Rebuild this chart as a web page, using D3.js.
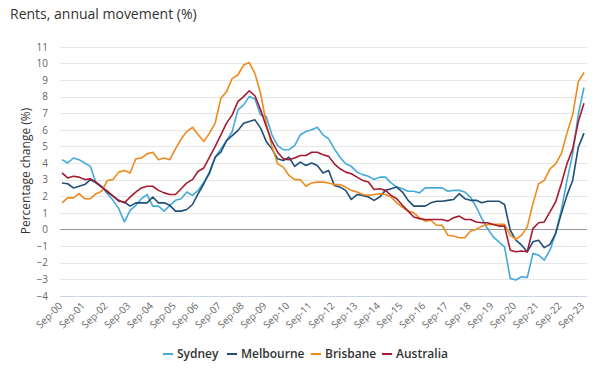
<!DOCTYPE html>
<html><head><meta charset="utf-8">
<script src="https://cdn.jsdelivr.net/npm/d3@7/dist/d3.min.js"></script>
<style>body{margin:0;background:#fff;font-family:"Open Sans",sans-serif;}</style>
</head><body><svg id="c" width="601" height="371"></svg>
<script>
const tickLabels = ["Sep-00","Sep-01","Sep-02","Sep-03","Sep-04","Sep-05","Sep-06","Sep-07","Sep-08","Sep-09","Sep-10","Sep-11","Sep-12","Sep-13","Sep-14","Sep-15","Sep-16","Sep-17","Sep-18","Sep-19","Sep-20","Sep-21","Sep-22","Sep-23"];
const yTicks = [-4,-3,-2,-1,0,1,2,3,4,5,6,7,8,9,10,11];
const seriesNames = ["Sydney","Melbourne","Brisbane","Australia"];
const sydney = [4.2,4.0,4.3,4.2,4.0,3.8,2.8,2.6,2.15,1.75,1.25,0.45,1.15,1.45,1.85,2.1,1.4,1.4,1.1,1.45,1.75,1.85,2.25,2.05,2.35,2.85,3.35,4.35,4.85,5.35,5.9,7.2,7.5,8.0,7.85,6.9,6.8,5.7,5.05,4.8,4.8,5.05,5.7,5.9,6.0,6.15,5.7,5.45,4.85,4.35,3.95,3.8,3.45,3.3,3.2,3.0,3.15,3.15,2.8,2.55,2.45,2.3,2.3,2.2,2.5,2.5,2.5,2.5,2.3,2.35,2.35,2.25,1.95,1.35,0.65,0.05,-0.45,-0.75,-1.05,-2.95,-3.05,-2.85,-2.9,-1.45,-1.55,-1.85,-1.25,-0.25,1.15,2.95,4.55,6.95,8.55];
const melbourne = [2.8,2.75,2.5,2.6,2.7,3.0,2.8,2.55,2.25,2.0,1.7,1.65,1.4,1.6,1.6,1.6,1.95,1.6,1.6,1.45,1.1,1.1,1.2,1.5,2.15,2.75,3.45,4.35,4.65,5.35,5.65,5.95,6.4,6.5,6.6,6.1,5.3,4.85,4.25,4.15,4.35,3.8,4.05,3.85,4.0,3.85,3.4,3.55,2.65,2.55,2.35,1.8,2.1,2.05,1.95,1.75,1.95,2.35,2.45,2.55,2.25,1.75,1.4,1.4,1.4,1.6,1.7,1.7,1.75,1.8,2.15,1.85,1.75,1.75,1.6,1.7,1.7,1.7,1.5,-0.05,-0.65,-0.95,-1.35,-0.75,-0.65,-1.1,-0.9,-0.25,0.95,2.05,2.95,4.95,5.8];
const brisbane = [1.6,1.9,1.9,2.15,1.85,1.85,2.15,2.3,2.95,3.0,3.45,3.55,3.4,4.25,4.3,4.55,4.65,4.2,4.3,4.2,4.85,5.45,5.9,6.15,5.7,5.3,5.8,6.4,7.9,8.3,9.1,9.3,9.9,10.05,9.4,8.2,6.4,5.0,3.95,3.75,3.25,3.0,3.0,2.6,2.8,2.85,2.85,2.8,2.7,2.7,2.55,2.35,2.25,2.1,2.05,2.1,2.15,2.1,1.95,1.6,1.35,1.1,1.0,0.7,0.5,0.55,0.25,0.25,-0.35,-0.4,-0.5,-0.5,-0.1,0.0,0.2,0.3,0.3,0.3,0.3,-0.35,-0.6,-0.35,0.15,1.55,2.75,2.95,3.65,3.95,4.55,5.8,6.9,8.9,9.45];
const australia = [3.4,3.1,3.2,3.15,3.0,3.05,2.85,2.55,2.3,2.0,1.75,1.6,1.95,2.25,2.5,2.6,2.6,2.35,2.2,2.1,2.1,2.45,2.8,3.0,3.5,3.7,4.35,5.0,5.7,6.4,6.9,7.7,8.0,8.35,8.05,7.2,6.2,5.3,4.65,4.25,4.2,4.3,4.45,4.45,4.65,4.65,4.5,4.4,3.95,3.65,3.45,3.35,3.15,2.95,2.85,2.4,2.45,2.35,2.05,1.85,1.45,1.1,0.75,0.65,0.6,0.6,0.6,0.6,0.5,0.7,0.8,0.6,0.6,0.45,0.4,0.4,0.3,0.2,0.2,-1.25,-1.35,-1.3,-1.35,0.05,0.4,0.45,1.05,1.65,2.75,3.95,4.85,6.5,7.6];
const colors = ["#45a9dc","#1f4e77","#ee8a1d","#a51c30"];
const allSeries = [sydney, melbourne, brisbane, australia];

const svg = d3.select("#c");
const x = d3.scaleLinear().domain([0, sydney.length - 1]).range([62, 584]);
const y = d3.scaleLinear().domain([-4, 11]).range([295.8, 46.8]);

svg.append("text").attr("x", 10).attr("y", 19).attr("font-size", 14).attr("fill", "#333").text("Rents, annual movement (%)");

// grid
const g = svg.append("g");
g.selectAll("line.grid").data(yTicks).join("line")
  .attr("x1", 60).attr("x2", 587)
  .attr("y1", d => Math.round(y(d)) + 0.5).attr("y2", d => Math.round(y(d)) + 0.5)
  .attr("stroke", d => d === 0 ? "#999" : (d === -4 ? "#ccd6eb" : "#e6e6e6"))
  .attr("stroke-width", 1);

// y axis labels
const yAxis = d3.axisLeft(y).tickValues(yTicks).tickSize(0).tickPadding(0).tickFormat(d3.format("d"));
const ya = svg.append("g").attr("transform", "translate(48,0)").call(yAxis);
ya.select(".domain").remove();
ya.selectAll("text").attr("fill", "#666").attr("font-size", 10).attr("font-family", "Open Sans");

svg.append("text").attr("transform", "translate(30,171) rotate(-90)").attr("text-anchor", "middle")
  .attr("font-size", 12).attr("fill", "#333").text("Percentage change (%)");

// x axis labels
const xTickIdx = tickLabels.map((t, i) => i * 4);
const xAxis = d3.axisBottom(x).tickValues(xTickIdx).tickSize(0).tickFormat((d, i) => tickLabels[i]);
const xa = svg.append("g").attr("transform", "translate(0,300)").call(xAxis);
xa.select(".domain").remove();
xa.selectAll("text").attr("fill", "#666").attr("font-size", 10).attr("font-family", "Open Sans")
  .attr("text-anchor", "end").attr("dy", "0.35em").attr("y", 0)
  .attr("transform", "translate(-2,4) rotate(-45)");

// lines
const line = d3.line().x((d, i) => x(i)).y(d => y(d));
allSeries.forEach((s, k) => {
  svg.append("path").datum(s).attr("d", line).attr("fill", "none")
    .attr("stroke", colors[k]).attr("stroke-width", 1.6).attr("stroke-linejoin", "round");
});

// legend
const legendX = [163, 227, 311, 382];
const lg = svg.append("g");
seriesNames.forEach((n, k) => {
  lg.append("line").attr("x1", legendX[k]).attr("x2", legendX[k] + 10).attr("y1", 354).attr("y2", 354)
    .attr("stroke", colors[k]).attr("stroke-width", 2);
  lg.append("text").attr("x", legendX[k] + 14).attr("y", 358).attr("font-size", 12)
    .attr("font-weight", 600).attr("fill", "#333").text(n);
});
</script></body></html>
